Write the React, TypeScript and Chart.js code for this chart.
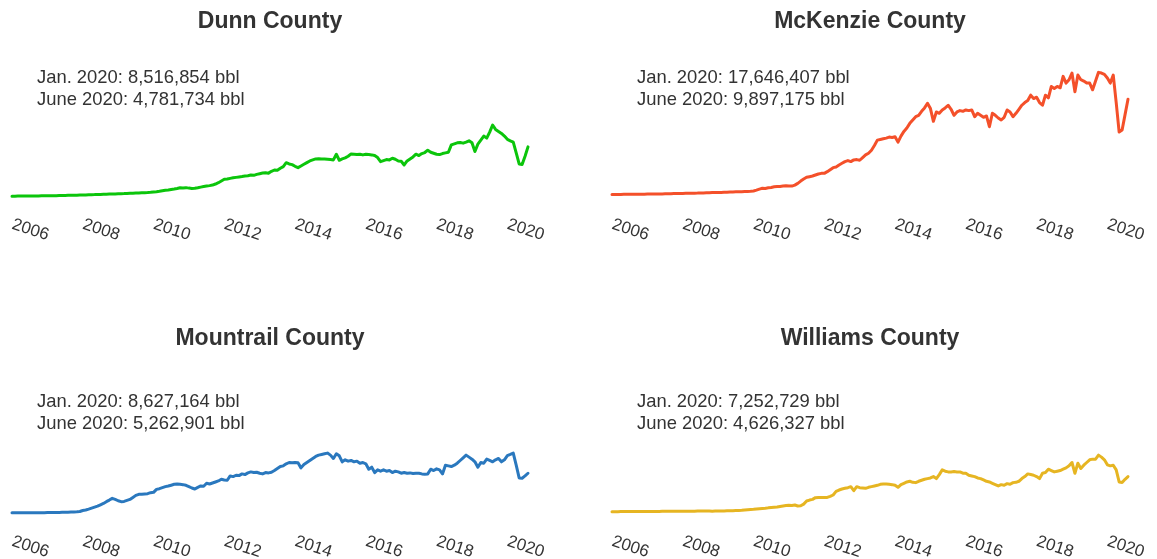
import React, { useEffect, useRef } from "react";
import { Chart, registerables } from "chart.js";

Chart.register(...registerables);

// Monthly oil production, million bbl, Jan 2006 – Aug 2020
const START_YEAR = 2006;
const tickYears = [2006, 2008, 2010, 2012, 2014, 2016, 2018, 2020];

const dunn = [
  0.05, 0.05, 0.06, 0.06, 0.07, 0.07, 0.08, 0.08, 0.09, 0.09, 0.10, 0.10,
  0.11, 0.11, 0.12, 0.13, 0.14, 0.15, 0.16, 0.17, 0.18, 0.19, 0.20, 0.22,
  0.23, 0.24, 0.26, 0.27, 0.28, 0.30, 0.31, 0.33, 0.35, 0.36, 0.37, 0.38,
  0.40, 0.42, 0.43, 0.45, 0.47, 0.49, 0.51, 0.53, 0.55, 0.57, 0.59, 0.62,
  0.67, 0.72, 0.78, 0.85, 0.92, 0.98, 1.05, 1.12, 1.20, 1.30, 1.28, 1.32,
  1.25, 1.20, 1.22, 1.30, 1.40, 1.48, 1.55, 1.62, 1.70, 1.86, 2.05, 2.30,
  2.56, 2.60, 2.70, 2.78, 2.85, 2.92, 2.98, 3.05, 3.10, 3.20, 3.15, 3.30,
  3.40, 3.50, 3.55, 3.48, 3.75, 3.95, 3.90, 4.20, 4.45, 5.04, 4.85, 4.75,
  4.50, 4.30, 4.55, 4.80, 5.05, 5.30, 5.45, 5.60, 5.62, 5.58, 5.60, 5.55,
  5.50, 5.45, 6.30, 5.40, 5.60, 5.75, 6.00, 6.35, 6.30, 6.25, 6.30, 6.20,
  6.30, 6.25, 6.20, 6.10, 5.80, 5.20, 5.35, 5.50, 5.45, 5.70, 5.55, 5.30,
  5.25, 4.70, 5.30, 5.60, 5.90, 6.30, 6.10, 6.40, 6.55, 6.90, 6.60, 6.45,
  6.30, 6.25, 6.40, 6.50, 6.60, 7.70, 7.85, 8.00, 8.05, 7.95, 8.10, 8.30,
  8.00, 6.70, 7.80, 8.40, 9.00, 8.70, 9.60, 10.65, 10.00, 9.70, 9.40, 9.00,
  8.52, 8.30, 8.10, 6.50, 4.85, 4.78, 6.00, 7.40,
];

const mckenzie = [
  0.30, 0.30, 0.31, 0.31, 0.32, 0.32, 0.33, 0.33, 0.34, 0.34, 0.35, 0.35,
  0.36, 0.36, 0.37, 0.38, 0.38, 0.39, 0.40, 0.41, 0.42, 0.43, 0.44, 0.45,
  0.46, 0.47, 0.48, 0.49, 0.50, 0.51, 0.53, 0.54, 0.55, 0.56, 0.58, 0.59,
  0.60, 0.61, 0.63, 0.64, 0.66, 0.68, 0.69, 0.70, 0.72, 0.74, 0.76, 0.78,
  0.82, 0.95, 1.10, 1.22, 1.20, 1.30, 1.35, 1.45, 1.50, 1.48, 1.55, 1.60,
  1.56, 1.55, 1.70, 1.96, 2.30, 2.60, 2.86, 2.95, 3.05, 3.20, 3.35, 3.45,
  3.45, 3.70, 4.00, 4.30, 4.40, 4.70, 4.95, 5.20, 5.35, 5.20, 5.45, 5.50,
  5.40, 5.80, 6.20, 6.45, 6.90, 7.60, 8.40, 8.50, 8.60, 8.70, 8.85, 8.80,
  8.90, 8.10, 9.00, 9.70, 10.20, 10.90, 11.40, 11.90, 12.10, 12.70, 13.20, 13.90,
  13.10, 11.20, 12.60, 12.40, 12.90, 13.20, 13.60, 13.00, 12.10, 12.60, 12.80, 12.70,
  12.90, 12.80, 12.90, 11.90, 12.40, 12.10, 11.80, 12.00, 10.40, 12.40, 12.10, 11.70,
  11.40, 11.80, 12.90, 12.60, 11.90, 12.40, 13.00, 13.60, 14.00, 14.30, 15.10, 14.60,
  14.80, 14.00, 13.60, 15.10, 14.70, 16.40, 16.10, 16.40, 16.20, 17.90, 16.90, 17.40,
  18.40, 15.60, 18.10, 17.40, 17.20, 16.90, 16.90, 15.90, 17.20, 18.50, 18.40, 18.20,
  17.65, 16.90, 18.10, 14.00, 9.60, 9.90, 12.20, 14.50,
];

const mountrail = [
  0.10, 0.10, 0.10, 0.11, 0.11, 0.11, 0.12, 0.12, 0.12, 0.13, 0.13, 0.13,
  0.14, 0.14, 0.15, 0.15, 0.16, 0.17, 0.18, 0.19, 0.21, 0.23, 0.26, 0.30,
  0.45, 0.52, 0.65, 0.80, 0.95, 1.10, 1.30, 1.50, 1.76, 2.00, 2.26, 2.10,
  1.90, 1.76, 1.80, 1.95, 2.10, 2.40, 2.70, 2.86, 2.88, 2.92, 2.95, 3.10,
  3.15, 3.60, 3.70, 3.85, 4.00, 4.10, 4.22, 4.35, 4.38, 4.35, 4.30, 4.20,
  4.00, 3.80, 3.65, 3.90, 4.10, 4.05, 4.50, 4.40, 4.55, 4.70, 4.85, 5.10,
  5.00, 4.95, 5.60, 5.50, 5.70, 5.65, 5.90, 5.80, 6.05, 6.20, 6.10, 6.15,
  6.00, 5.90, 6.10, 6.05, 6.15, 6.40, 6.70, 7.00, 7.10, 7.40, 7.60, 7.55,
  7.60, 7.55, 6.80, 7.30, 7.60, 7.90, 8.20, 8.50, 8.70, 8.80, 8.90, 9.00,
  8.70, 8.20, 8.90, 8.60, 7.70, 8.00, 7.80, 7.90, 7.70, 7.80, 7.50, 7.60,
  7.40, 6.60, 6.90, 6.10, 6.50, 6.30, 6.50, 6.30, 6.40, 6.10, 6.30, 6.20,
  6.00, 6.10, 6.00, 6.05, 5.95, 6.00, 6.00, 5.90, 5.85, 5.90, 6.60, 6.40,
  6.65, 6.50, 5.90, 7.20, 7.10, 7.00, 7.20, 7.50, 7.90, 8.30, 8.70, 8.40,
  8.10, 7.70, 6.90, 7.60, 7.50, 8.10, 7.90, 7.70, 8.00, 8.20, 7.70, 8.00,
  8.63, 8.80, 9.00, 7.20, 5.30, 5.26, 5.60, 6.00,
];

const williams = [
  0.27, 0.27, 0.27, 0.28, 0.28, 0.28, 0.28, 0.29, 0.29, 0.29, 0.29, 0.30,
  0.30, 0.30, 0.31, 0.31, 0.31, 0.32, 0.32, 0.32, 0.33, 0.33, 0.33, 0.34,
  0.34, 0.34, 0.35, 0.35, 0.35, 0.36, 0.36, 0.37, 0.37, 0.36, 0.35, 0.36,
  0.37, 0.38, 0.39, 0.40, 0.41, 0.42, 0.44, 0.46, 0.48, 0.52, 0.56, 0.60,
  0.62, 0.66, 0.70, 0.74, 0.78, 0.84, 0.88, 0.92, 0.96, 1.05, 1.12, 1.18,
  1.22, 1.20, 1.27, 1.12, 1.15, 1.40, 1.86, 2.00, 2.10, 2.36, 2.40, 2.38,
  2.40, 2.40, 2.55, 2.76, 3.30, 3.50, 3.65, 3.75, 3.85, 4.00, 3.40, 4.00,
  3.85, 3.80, 3.75, 3.90, 4.00, 4.10, 4.20, 4.35, 4.40, 4.40, 4.35, 4.30,
  4.20, 3.90, 4.30, 4.50, 4.70, 4.80, 4.65, 4.60, 4.80, 4.95, 5.10, 5.20,
  5.30, 5.50, 5.20, 5.80, 6.50, 6.30, 6.20, 6.20, 6.25, 6.20, 6.20, 6.00,
  6.00, 5.70, 5.60, 5.50, 5.30, 5.20, 5.00, 4.80, 4.70, 4.50, 4.30, 4.10,
  4.30, 4.20, 4.45, 4.35, 4.60, 4.65, 4.80, 5.20, 5.50, 5.90, 5.80, 5.70,
  5.50, 5.20, 6.00, 6.10, 6.60, 6.40, 6.20, 6.30, 6.40, 6.60, 6.80, 7.10,
  7.60, 6.00, 7.50, 6.70, 7.20, 7.60, 8.00, 8.10, 8.10, 8.70, 8.40, 8.00,
  7.25, 7.10, 7.20, 6.50, 4.70, 4.63, 5.10, 5.50,
];

const counties = ["Dunn County", "McKenzie County", "Mountrail County", "Williams County"];
const janLabels = [
  "Jan. 2020: 8,516,854 bbl",
  "Jan. 2020: 17,646,407 bbl",
  "Jan. 2020: 8,627,164 bbl",
  "Jan. 2020: 7,252,729 bbl",
];
const juneLabels = [
  "June 2020: 4,781,734 bbl",
  "June 2020: 9,897,175 bbl",
  "June 2020: 5,262,901 bbl",
  "June 2020: 4,626,327 bbl",
];
const seriesList = [dunn, mckenzie, mountrail, williams];
const colors = ["#0bc50b", "#f4502a", "#2a78be", "#e6b522"];

const Y_MAX = 19;
const FONT = "'Liberation Sans', Arial, Helvetica, sans-serif";
const TEXT_COLOR = "#333333";

const PANEL_W = 578;
const PANEL_H = 242;
const panelPos = [
  { left: 0, top: 0, annotTop: 66 },
  { left: 600, top: 0, annotTop: 66 },
  { left: 0, top: 317, annotTop: 73 },
  { left: 600, top: 317, annotTop: 73 },
];

const slantedTicks = {
  id: "slantedTicks",
  afterDraw(chart: any) {
    const ctx = chart.ctx;
    const xs = chart.scales.x;
    ctx.save();
    ctx.fillStyle = TEXT_COLOR;
    ctx.font = `17px ${FONT}`;
    ctx.textAlign = "left";
    ctx.textBaseline = "top";
    for (const yr of tickYears) {
      const px = xs.getPixelForValue(yr);
      ctx.save();
      ctx.translate(px + 3, 216);
      ctx.rotate((18 * Math.PI) / 180);
      ctx.fillText(String(yr), 0, 0);
      ctx.restore();
    }
    ctx.restore();
  },
};

function Panel({ idx }: { idx: number }) {
  const ref = useRef<HTMLCanvasElement | null>(null);
  useEffect(() => {
    if (!ref.current) return;
    const values = seriesList[idx];
    const points = values.map((v, i) => ({ x: START_YEAR + i / 12, y: v }));
    const chart = new Chart(ref.current, {
      type: "line",
      data: {
        datasets: [
          {
            data: points,
            borderColor: colors[idx],
            borderWidth: 3,
            borderJoinStyle: "round",
            borderCapStyle: "round",
            pointRadius: 0,
            tension: 0,
            fill: false,
            clip: false as any,
          },
        ],
      },
      options: {
        animation: false,
        responsive: false,
        maintainAspectRatio: false,
        layout: { padding: { left: 12, right: 50, top: 69, bottom: 45.5 } },
        plugins: {
          legend: { display: false },
          tooltip: { enabled: false },
          title: { display: false },
        },
        scales: {
          x: {
            type: "linear",
            min: START_YEAR,
            max: START_YEAR + (values.length - 1) / 12,
            display: false,
          },
          y: { type: "linear", min: 0, max: Y_MAX, display: false },
        },
      },
      plugins: [slantedTicks],
    });
    return () => chart.destroy();
  }, [idx]);

  const pos = panelPos[idx];
  return (
    <div
      style={{
        position: "absolute",
        left: pos.left,
        top: pos.top,
        width: PANEL_W,
        height: PANEL_H,
        fontFamily: FONT,
        color: TEXT_COLOR,
      }}
    >
      <canvas ref={ref} width={PANEL_W} height={PANEL_H} style={{ position: "absolute", left: 0, top: 0 }} />
      <div
        style={{
          position: "absolute",
          left: 0,
          width: 540,
          top: 6,
          textAlign: "center",
          fontSize: 23,
          lineHeight: "28px",
          fontWeight: "bold",
        }}
      >
        {counties[idx]}
      </div>
      <div
        style={{
          position: "absolute",
          left: 37,
          top: pos.annotTop,
          fontSize: 18.4,
          lineHeight: "22px",
          whiteSpace: "nowrap",
        }}
      >
        <div>{janLabels[idx]}</div>
        <div>{juneLabels[idx]}</div>
      </div>
    </div>
  );
}

export default function App() {
  return (
    <div
      style={{
        position: "absolute",
        left: 0,
        top: 0,
        width: 1157,
        height: 559,
        background: "#ffffff",
        overflow: "hidden",
      }}
    >
      {[0, 1, 2, 3].map((i) => (
        <Panel key={i} idx={i} />
      ))}
    </div>
  );
}
